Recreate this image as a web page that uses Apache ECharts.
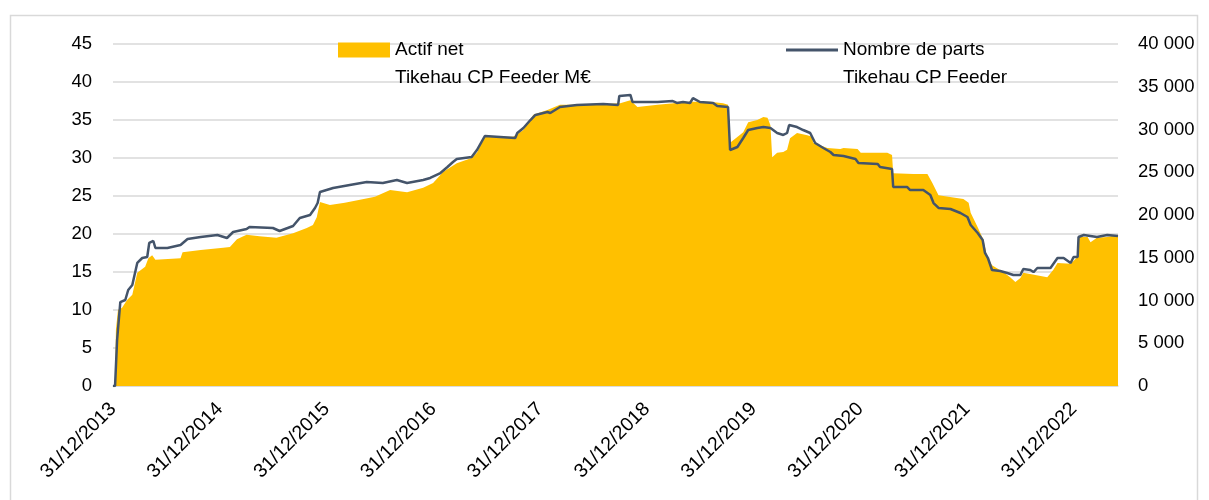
<!DOCTYPE html>
<html>
<head>
<meta charset="utf-8">
<script src="https://cdn.jsdelivr.net/npm/echarts@6/dist/echarts.min.js"></script>
<style>
  html, body { margin: 0; padding: 0; background: #fff; }
  #chart { width: 1209px; height: 500px; }
</style>
</head>
<body>
<div id="chart"></div>
<script>
// Actif net (M€, axe gauche)
var actifDates = ['2013-12-31','2014-01-07','2014-01-10','2014-01-17','2014-01-31','2014-02-17','2014-03-07','2014-03-24','2014-04-20','2014-05-01','2014-05-14','2014-05-25','2014-08-19','2014-08-26','2014-10-27','2015-01-12','2015-02-04','2015-02-28','2015-04-02','2015-05-16','2015-07-13','2015-09-08','2015-10-25','2015-11-15','2015-11-28','2015-12-09','2016-01-12','2016-03-03','2016-04-24','2016-06-14','2016-08-05','2016-10-02','2016-11-26','2016-12-30','2017-02-03','2017-03-21','2017-05-11','2017-05-29','2017-06-25','2017-09-30','2017-11-04','2017-12-08','2018-01-25','2018-03-09','2018-06-20','2018-10-01','2018-11-05','2018-11-29','2019-02-06','2019-05-28','2019-08-05','2019-09-18','2019-10-05','2019-10-12','2019-11-26','2019-12-13','2020-01-13','2020-02-03','2020-02-17','2020-02-27','2020-03-04','2020-03-21','2020-04-11','2020-04-24','2020-05-04','2020-05-28','2020-07-02','2020-07-19','2020-07-22','2020-09-09','2020-10-23','2020-11-03','2020-12-21','2021-01-01','2021-04-02','2021-04-18','2021-04-22','2021-06-30','2021-08-17','2021-09-03','2021-09-24','2021-12-18','2022-01-05','2022-01-12','2022-02-05','2022-02-25','2022-03-09','2022-03-26','2022-05-03','2022-05-27','2022-06-14','2022-07-01','2022-07-11','2022-08-21','2022-10-01','2022-10-22','2022-11-05','2022-12-20','2023-01-13','2023-01-16','2023-02-16','2023-02-26','2023-03-20','2023-04-24','2023-05-31'];
var actifValues = [0,0,7.4,10.0,10.3,11.3,12.0,14.9,15.7,16.8,17.2,16.6,16.8,17.6,17.9,18.2,18.3,19.3,19.9,19.7,19.5,20.1,20.8,21.2,22.2,24.2,23.8,24.1,24.5,24.9,25.8,25.5,26.1,26.7,28.2,29.3,30.0,30.7,32.8,32.8,33.7,35.7,36.3,37.0,37.0,37.2,37.6,36.7,37.0,37.4,37.4,37.2,37.0,32.0,33.4,34.7,35.0,35.4,35.3,34.3,30.1,30.7,30.8,31.1,32.6,33.3,33.0,32.8,32.0,31.3,31.2,31.3,31.2,30.7,30.7,30.4,28.0,27.9,27.9,26.7,25.1,24.6,24.1,22.8,20.9,19.2,17.0,15.9,15.0,14.3,13.7,14.2,14.9,14.6,14.3,15.3,16.2,16.1,17.0,19.6,19.6,18.9,19.5,19.6,19.9];

// Nombre de parts (axe droit)
var partsDates = ['2013-12-31','2014-01-07','2014-01-14','2014-01-25','2014-02-11','2014-02-21','2014-03-07','2014-03-24','2014-04-10','2014-04-27','2014-05-04','2014-05-18','2014-05-25','2014-07-05','2014-08-19','2014-09-12','2014-10-27','2014-12-23','2015-01-25','2015-02-15','2015-04-02','2015-04-12','2015-07-01','2015-07-24','2015-09-08','2015-10-01','2015-11-05','2015-11-22','2015-12-01','2015-12-09','2016-01-23','2016-03-20','2016-05-17','2016-07-11','2016-08-28','2016-10-02','2016-11-26','2016-12-20','2017-01-24','2017-02-17','2017-03-08','2017-03-21','2017-05-11','2017-05-29','2017-06-25','2017-10-07','2017-10-14','2017-11-04','2017-11-28','2017-12-15','2018-01-25','2018-02-04','2018-03-09','2018-05-06','2018-08-04','2018-09-24','2018-09-28','2018-11-05','2018-11-12','2019-02-06','2019-03-30','2019-04-13','2019-05-04','2019-05-28','2019-06-07','2019-07-01','2019-08-15','2019-08-29','2019-10-05','2019-10-12','2019-11-06','2019-11-26','2019-12-13','2020-01-13','2020-02-03','2020-02-27','2020-03-21','2020-04-11','2020-04-24','2020-05-01','2020-05-28','2020-06-18','2020-07-12','2020-07-29','2020-08-26','2020-09-19','2020-09-30','2020-11-03','2020-12-14','2020-12-24','2021-02-28','2021-03-08','2021-04-18','2021-04-22','2021-06-09','2021-06-19','2021-08-03','2021-08-27','2021-09-07','2021-09-24','2021-11-04','2021-12-08','2022-01-01','2022-01-12','2022-02-05','2022-02-22','2022-03-02','2022-03-12','2022-03-26','2022-04-23','2022-05-17','2022-06-07','2022-07-01','2022-07-11','2022-08-04','2022-08-15','2022-08-28','2022-10-12','2022-11-05','2022-11-26','2022-12-20','2022-12-30','2023-01-13','2023-01-16','2023-02-03','2023-03-20','2023-04-24','2023-05-31'];
var partsValues = [0,0,5380,9820,10060,11230,11810,14390,14970,15090,16730,16960,16140,16140,16490,17190,17430,17660,17310,18010,18360,18600,18480,18130,18710,19650,20000,20820,21400,22690,23160,23510,23860,23740,24090,23740,24090,24330,24910,25610,26200,26550,26780,27600,29240,29010,29590,30180,31110,31700,32050,31930,32630,32870,32980,32870,33920,34040,33220,33220,33330,33100,33220,33100,33680,33220,33100,32750,32630,27600,27950,29010,29940,30180,30290,30180,29590,29360,29590,30530,30290,29940,29590,28420,27840,27370,27020,26900,26550,26080,25960,25610,25380,23270,23270,22920,22920,22340,21400,20820,20700,20230,19770,18830,17890,17080,15560,14970,13570,13450,13220,12980,12980,13680,13570,13330,13800,13800,14970,14970,14390,15090,15090,17430,17660,17430,17660,17540];

var startDate = '2013-12-31';
var endDate = '2023-05-31';
var yearTicks = ['31/12/2013','31/12/2014','31/12/2015','31/12/2016','31/12/2017','31/12/2018','31/12/2019','31/12/2020','31/12/2021','31/12/2022'];

function dayOffset(d){
	return (Date.parse(d) - Date.parse(startDate)) / 86400000;
}
function pairs(dates, values){
	var out = [];
	for(var i=0; i<dates.length; i++){
		out.push([dayOffset(dates[i]), values[i]]);
	}
	return out;
}
function thousands(v){
	return String(v).replace(/\B(?=(\d{3})+(?!\d))/g, ' ');
}
// blank first line so the icon sits beside the first line of the name
function legendText(name){
	return ' \n' + name;
}

var FONT = 'Liberation Sans';
var chart = echarts.init(document.getElementById('chart'));

var option = {
	animation: false,
	backgroundColor: '#fff',
	textStyle: { fontFamily: FONT },
	grid: { left: 113, right: 91, top: 44, bottom: 114, outerBoundsMode: 'none' },
	graphic: [{
		type: 'rect',
		shape: { x: 10.5, y: 15.5, width: 1187, height: 520 },
		style: { fill: 'none', stroke: '#D9D9D9', lineWidth: 1.5 },
		silent: true
	}],
	legend: [{
		data: ['Actif net\nTikehau CP Feeder M€'],
		left: 338, top: 8, padding: 0,
		icon: 'rect', itemWidth: 52, itemHeight: 15, itemGap: 0,
		formatter: legendText,
		textStyle: { fontFamily: FONT, fontSize: 19, color: '#000', lineHeight: 28 }
	}, {
		data: ['Nombre de parts\nTikehau CP Feeder'],
		left: 786, top: 8, padding: 0,
		icon: 'rect', itemWidth: 52, itemHeight: 3, itemGap: 0,
		formatter: legendText,
		textStyle: { fontFamily: FONT, fontSize: 19, color: '#000', lineHeight: 28 }
	}],
	xAxis: {
		type: 'value',
		min: 0,
		max: dayOffset(endDate),
		interval: 365.25,
		axisLine: { show: true, lineStyle: { color: '#D9D9D9', width: 1.5 } },
		axisTick: { show: false },
		splitLine: { show: false },
		axisLabel: {
			rotate: 45,
			margin: 20,
			fontSize: 19.5,
			color: '#000',
			showMaxLabel: false,
			formatter: function(v){
				var k = Math.round(v / 365.25);
				return yearTicks[k] || '';
			}
		}
	},
	yAxis: [{
		type: 'value',
		min: 0, max: 45, interval: 5,
		axisLine: { show: false },
		axisTick: { show: false },
		splitLine: { lineStyle: { color: '#D9D9D9', width: 1.5 } },
		axisLabel: { fontSize: 18.5, color: '#000', margin: 21 }
	}, {
		type: 'value',
		min: 0, max: 40000, interval: 5000,
		axisLine: { show: false },
		axisTick: { show: false },
		splitLine: { show: false },
		axisLabel: { fontSize: 18.5, color: '#000', margin: 20, formatter: thousands }
	}],
	series: [{
		name: 'Actif net\nTikehau CP Feeder M€',
		type: 'line',
		yAxisIndex: 0,
		symbol: 'none',
		color: '#FFC000',
		lineStyle: { width: 0 },
		areaStyle: { color: '#FFC000', opacity: 1 },
		z: 1,
		data: pairs(actifDates, actifValues)
	}, {
		name: 'Nombre de parts\nTikehau CP Feeder',
		type: 'line',
		yAxisIndex: 1,
		symbol: 'none',
		color: '#44546A',
		lineStyle: { color: '#44546A', width: 2.5 },
		z: 2,
		data: pairs(partsDates, partsValues)
	}]
};
chart.setOption(option);
</script>
</body>
</html>
